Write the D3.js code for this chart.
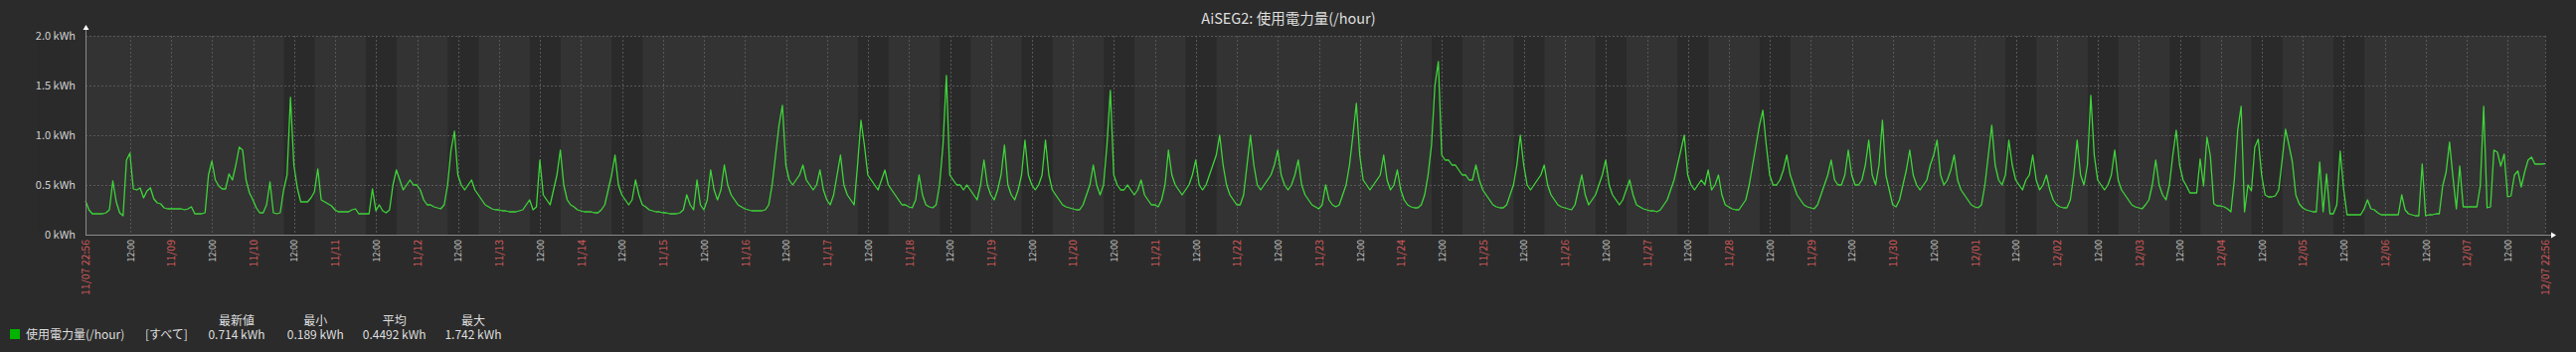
<!DOCTYPE html>
<html>

<head>
    <title>AiSEG2: 使用電力量(/hour)</title>
    <meta charset="utf-8">
    <script src="https://cdn.jsdelivr.net/npm/d3@7"></script>
    <style>
        body { margin: 0; background: #2b2b2b; }
        svg { display: block; font-family: "Noto Sans CJK JP", "Noto Sans", sans-serif; }
    </style>
</head>

<body>
<div id="chart"></div>
<script>
    const TITLE = "AiSEG2: 使用電力量(/hour)";
    const startTime = new Date(2025, 10, 7, 22, 56);
    const endTime = new Date(2025, 11, 7, 22, 56);

    // hourly values (kWh) from the start point, one row per day 11/08 .. 12/07
    const usage = [0.34,
        0.25, 0.21, 0.21, 0.21, 0.21, 0.22, 0.25, 0.54, 0.33, 0.22, 0.19, 0.75, 0.82, 0.46, 0.45, 0.47, 0.37, 0.44, 0.47, 0.36, 0.32, 0.31, 0.27, 0.26,
        0.26, 0.26, 0.26, 0.26, 0.25, 0.26, 0.28, 0.21, 0.21, 0.21, 0.22, 0.60, 0.74, 0.55, 0.49, 0.46, 0.46, 0.61, 0.55, 0.70, 0.88, 0.85, 0.55, 0.42,
        0.35, 0.27, 0.22, 0.22, 0.30, 0.53, 0.22, 0.21, 0.22, 0.45, 0.60, 1.38, 0.70, 0.47, 0.33, 0.33, 0.33, 0.37, 0.43, 0.66, 0.35, 0.33, 0.31, 0.29,
        0.25, 0.23, 0.23, 0.23, 0.23, 0.25, 0.26, 0.21, 0.21, 0.21, 0.21, 0.46, 0.24, 0.30, 0.24, 0.22, 0.25, 0.50, 0.65, 0.55, 0.45, 0.50, 0.55, 0.50,
        0.50, 0.45, 0.35, 0.30, 0.30, 0.28, 0.27, 0.26, 0.30, 0.50, 0.85, 1.04, 0.60, 0.50, 0.45, 0.50, 0.55, 0.45, 0.40, 0.35, 0.30, 0.28, 0.26, 0.25,
        0.25, 0.24, 0.24, 0.23, 0.23, 0.23, 0.24, 0.25, 0.30, 0.35, 0.25, 0.28, 0.75, 0.40, 0.35, 0.30, 0.45, 0.60, 0.85, 0.50, 0.35, 0.30, 0.28, 0.25,
        0.24, 0.23, 0.23, 0.23, 0.22, 0.22, 0.25, 0.30, 0.45, 0.60, 0.80, 0.50, 0.40, 0.35, 0.30, 0.35, 0.55, 0.40, 0.30, 0.28, 0.25, 0.24, 0.23, 0.23,
        0.22, 0.22, 0.21, 0.21, 0.21, 0.22, 0.25, 0.40, 0.30, 0.25, 0.55, 0.30, 0.25, 0.35, 0.65, 0.45, 0.35, 0.45, 0.70, 0.50, 0.40, 0.35, 0.30, 0.28,
        0.26, 0.25, 0.24, 0.24, 0.24, 0.24, 0.25, 0.30, 0.50, 0.80, 1.10, 1.30, 0.70, 0.55, 0.50, 0.55, 0.60, 0.70, 0.55, 0.50, 0.45, 0.50, 0.65, 0.45,
        0.35, 0.30, 0.40, 0.60, 0.80, 0.50, 0.40, 0.35, 0.30, 0.70, 1.15, 0.90, 0.60, 0.55, 0.50, 0.45, 0.55, 0.65, 0.50, 0.45, 0.40, 0.35, 0.30, 0.30,
        0.28, 0.27, 0.35, 0.60, 0.40, 0.30, 0.28, 0.27, 0.30, 0.50, 0.90, 1.60, 0.60, 0.55, 0.50, 0.50, 0.45, 0.50, 0.45, 0.40, 0.35, 0.50, 0.75, 0.50,
        0.40, 0.35, 0.45, 0.60, 0.90, 0.50, 0.40, 0.35, 0.45, 0.60, 0.95, 0.60, 0.50, 0.45, 0.50, 0.60, 0.95, 0.60, 0.45, 0.40, 0.35, 0.30, 0.28, 0.27,
        0.26, 0.25, 0.25, 0.30, 0.40, 0.50, 0.70, 0.50, 0.40, 0.50, 0.90, 1.45, 0.60, 0.50, 0.45, 0.45, 0.50, 0.45, 0.40, 0.45, 0.55, 0.40, 0.35, 0.30,
        0.30, 0.28, 0.35, 0.50, 0.85, 0.60, 0.50, 0.45, 0.40, 0.45, 0.50, 0.60, 0.75, 0.50, 0.45, 0.50, 0.60, 0.70, 0.80, 1.00, 0.70, 0.50, 0.40, 0.35,
        0.30, 0.30, 0.40, 0.70, 1.00, 0.70, 0.50, 0.45, 0.50, 0.55, 0.60, 0.70, 0.85, 0.60, 0.50, 0.45, 0.50, 0.60, 0.75, 0.50, 0.40, 0.35, 0.30, 0.28,
        0.26, 0.30, 0.50, 0.35, 0.30, 0.28, 0.30, 0.40, 0.50, 0.70, 1.00, 1.32, 0.80, 0.55, 0.50, 0.45, 0.50, 0.55, 0.60, 0.80, 0.55, 0.45, 0.50, 0.65,
        0.45, 0.35, 0.30, 0.28, 0.27, 0.27, 0.30, 0.40, 0.60, 0.90, 1.50, 1.74, 0.80, 0.75, 0.75, 0.70, 0.70, 0.65, 0.60, 0.60, 0.55, 0.55, 0.70, 0.55,
        0.45, 0.40, 0.35, 0.30, 0.28, 0.27, 0.27, 0.30, 0.40, 0.50, 0.70, 1.00, 0.70, 0.50, 0.45, 0.50, 0.55, 0.60, 0.70, 0.50, 0.40, 0.35, 0.30, 0.28,
        0.27, 0.26, 0.25, 0.30, 0.45, 0.60, 0.40, 0.30, 0.35, 0.40, 0.50, 0.60, 0.75, 0.50, 0.40, 0.35, 0.30, 0.35, 0.45, 0.55, 0.40, 0.30, 0.28, 0.26,
        0.25, 0.24, 0.24, 0.23, 0.25, 0.30, 0.35, 0.45, 0.55, 0.70, 0.85, 1.00, 0.60, 0.50, 0.45, 0.50, 0.55, 0.50, 0.65, 0.45, 0.50, 0.60, 0.40, 0.30,
        0.28, 0.26, 0.25, 0.25, 0.30, 0.35, 0.50, 0.70, 0.90, 1.10, 1.25, 0.90, 0.60, 0.50, 0.50, 0.55, 0.65, 0.80, 0.60, 0.50, 0.40, 0.35, 0.30, 0.28,
        0.27, 0.26, 0.30, 0.40, 0.50, 0.60, 0.75, 0.55, 0.50, 0.50, 0.60, 0.85, 0.60, 0.50, 0.50, 0.55, 0.70, 0.95, 0.60, 0.50, 0.70, 1.15, 0.60, 0.45,
        0.30, 0.28, 0.35, 0.50, 0.65, 0.85, 0.60, 0.50, 0.45, 0.50, 0.55, 0.70, 0.80, 0.95, 0.60, 0.50, 0.55, 0.65, 0.80, 0.55, 0.45, 0.40, 0.35, 0.30,
        0.28, 0.27, 0.30, 0.50, 0.80, 1.10, 0.70, 0.55, 0.50, 0.60, 0.95, 0.70, 0.55, 0.50, 0.45, 0.55, 0.60, 0.80, 0.55, 0.45, 0.50, 0.60, 0.45, 0.35,
        0.30, 0.28, 0.27, 0.27, 0.35, 0.60, 0.95, 0.60, 0.50, 0.70, 1.40, 0.80, 0.55, 0.50, 0.45, 0.50, 0.60, 0.85, 0.55, 0.45, 0.40, 0.35, 0.30, 0.28,
        0.27, 0.26, 0.30, 0.35, 0.50, 0.75, 0.50, 0.40, 0.35, 0.50, 0.80, 1.05, 0.70, 0.55, 0.49, 0.42, 0.42, 0.42, 0.76, 0.49, 0.98, 0.79, 0.31, 0.29,
        0.29, 0.28, 0.26, 0.23, 0.55, 1.05, 1.29, 0.23, 0.50, 0.44, 0.88, 0.96, 0.60, 0.40, 0.38, 0.38, 0.39, 0.45, 0.75, 1.06, 0.90, 0.73, 0.40, 0.31,
        0.27, 0.25, 0.24, 0.23, 0.23, 0.73, 0.23, 0.61, 0.21, 0.21, 0.30, 0.84, 0.46, 0.20, 0.20, 0.20, 0.20, 0.20, 0.26, 0.35, 0.26, 0.25, 0.22, 0.20,
        0.20, 0.20, 0.20, 0.20, 0.20, 0.40, 0.25, 0.21, 0.20, 0.19, 0.19, 0.71, 0.19, 0.20, 0.20, 0.21, 0.21, 0.49, 0.63, 0.93, 0.58, 0.26, 0.69, 0.28,
        0.28, 0.28, 0.28, 0.28, 0.49, 1.29, 0.27, 0.28, 0.85, 0.83, 0.69, 0.81, 0.38, 0.39, 0.60, 0.64, 0.48, 0.63, 0.75, 0.78, 0.71, 0.71, 0.71, 0.714
    ];

    const yTicks = [0, 0.5, 1.0, 1.5, 2.0];
    const seriesName = "使用電力量(/hour)";
    const seriesScope = "[すべて]";
    const legendHeaders = ["最新値", "最小", "平均", "最大"];
    const legendValues = ["0.714 kWh", "0.189 kWh", "0.4492 kWh", "1.742 kWh"];

    const W = 2591, H = 354;
    const margin = { top: 36, right: 31, bottom: 118, left: 86 };
    const plotRight = W - margin.right, plotBottom = H - margin.bottom;

    const svg = d3.select("#chart").append("svg")
        .attr("width", W)
        .attr("height", H);

    svg.append("rect").attr("width", W).attr("height", H).attr("fill", "#2b2b2b");

    const x = d3.scaleTime().domain([startTime, endTime]).range([margin.left, plotRight]);
    const y = d3.scaleLinear().domain([0, 2]).range([plotBottom, margin.top]);

    // plot background
    svg.append("rect")
        .attr("x", margin.left).attr("y", margin.top)
        .attr("width", plotRight - margin.left).attr("height", plotBottom - margin.top)
        .attr("fill", "#333333");

    // working time (Mon-Fri 09:00-18:00) drawn darker
    const days = d3.timeDay.range(d3.timeDay.floor(startTime), endTime)
        .filter(d => d.getDay() >= 1 && d.getDay() <= 5);
    svg.append("g").selectAll("rect")
        .data(days)
        .join("rect")
        .attr("x", d => x(d3.timeHour.offset(d, 9)))
        .attr("y", margin.top)
        .attr("width", d => x(d3.timeHour.offset(d, 18)) - x(d3.timeHour.offset(d, 9)))
        .attr("height", plotBottom - margin.top)
        .attr("fill", "#2a2a2a");

    // 12 hour ticks, skipping those crowding the end labels
    const ticks = d3.timeHour.every(12).range(startTime, endTime)
        .filter(t => x(t) - x(startTime) > 20 && x(endTime) - x(t) > 20);

    // grid
    const grid = svg.append("g")
        .attr("stroke", "#585858")
        .attr("stroke-dasharray", "2,2")
        .attr("stroke-width", 1);
    grid.selectAll(".vg")
        .data(ticks.concat([endTime]))
        .join("line")
        .attr("x1", d => Math.round(x(d)) + 0.5).attr("x2", d => Math.round(x(d)) + 0.5)
        .attr("y1", margin.top).attr("y2", plotBottom);
    grid.selectAll(".hg")
        .data(yTicks.filter(d => d > 0))
        .join("line")
        .attr("x1", margin.left).attr("x2", plotRight)
        .attr("y1", d => Math.round(y(d)) + 0.5).attr("y2", d => Math.round(y(d)) + 0.5);

    // series line
    const points = usage.map((v, i) => ({ t: d3.timeHour.offset(startTime, i), v: v }));
    const line = d3.line()
        .x(d => x(d.t))
        .y(d => y(d.v));
    svg.append("path")
        .datum(points)
        .attr("fill", "none")
        .attr("stroke", "#3fd43a")
        .attr("stroke-width", 1.3)
        .attr("stroke-linejoin", "round")
        .attr("d", line);

    // axes lines with arrows
    svg.append("line")
        .attr("x1", margin.left + 0.5).attr("x2", margin.left + 0.5)
        .attr("y1", plotBottom).attr("y2", margin.top - 8)
        .attr("stroke", "#8a8a8a");
    svg.append("line")
        .attr("x1", margin.left).attr("x2", plotRight + 8)
        .attr("y1", plotBottom + 0.5).attr("y2", plotBottom + 0.5)
        .attr("stroke", "#8a8a8a");
    svg.append("path")
        .attr("d", `M${margin.left + 0.5},${margin.top - 11}l-3,5h6z`)
        .attr("fill", "#ffffff");
    svg.append("path")
        .attr("d", `M${plotRight + 11},${plotBottom + 0.5}l-5,-3v6z`)
        .attr("fill", "#ffffff");

    // y axis labels
    const yAxis = svg.append("g")
        .attr("transform", `translate(${margin.left},0)`)
        .call(d3.axisLeft(y).tickValues(yTicks).tickSize(0).tickPadding(10)
            .tickFormat(d => (d === 0 ? "0" : d.toFixed(1)) + " kWh"));
    yAxis.select(".domain").remove();
    yAxis.selectAll("text")
        .attr("fill", "#d0d0d0")
        .style("font-size", "11px")
        .style("font-family", "'Noto Sans CJK JP', sans-serif");

    // x axis labels
    const fmtDay = d3.timeFormat("%m/%d");
    const fmtHour = d3.timeFormat("%H:%M");
    const fmtFull = d3.timeFormat("%m/%d %H:%M");
    const labelTimes = [startTime].concat(ticks, [endTime]);
    const isEdge = t => +t === +startTime || +t === +endTime;
    const isMidnight = t => t.getHours() === 0 && t.getMinutes() === 0;

    const xAxis = svg.append("g")
        .attr("transform", `translate(0,${plotBottom})`)
        .call(d3.axisBottom(x).tickValues(labelTimes).tickSize(0)
            .tickFormat(t => isEdge(t) ? fmtFull(t) : (isMidnight(t) ? fmtDay(t) : fmtHour(t))));
    xAxis.select(".domain").remove();
    xAxis.selectAll("text")
        .attr("transform", "rotate(-90)")
        .attr("x", -5)
        .attr("y", 0)
        .attr("dy", "0.35em")
        .style("text-anchor", "end")
        .style("font-family", "'Noto Sans CJK JP', sans-serif")
        .style("font-size", t => (isEdge(t) || isMidnight(t)) ? "10.5px" : "9px")
        .attr("fill", t => (isEdge(t) || isMidnight(t)) ? "#d25a5a" : "#d0d0d0");

    // title
    svg.append("text")
        .attr("x", 1296)
        .attr("y", 24)
        .attr("text-anchor", "middle")
        .attr("fill", "#dedede")
        .style("font-size", "14.5px")
        .text(TITLE);

    // legend
    const legend = svg.append("g").style("font-size", "12px").attr("fill", "#dedede");
    legend.append("rect")
        .attr("x", 10).attr("y", 331)
        .attr("width", 10).attr("height", 10)
        .attr("fill", "#00b400");
    legend.append("text").attr("x", 26).attr("y", 341).text(seriesName);
    legend.append("text").attr("x", 146).attr("y", 341).text(seriesScope);

    const col = d3.scalePoint().domain(legendHeaders).range([238, 476]);
    legend.selectAll(".hdr")
        .data(legendHeaders)
        .join("text")
        .attr("x", d => col(d)).attr("y", 327)
        .attr("text-anchor", "middle")
        .text(d => d);
    legend.selectAll(".val")
        .data(legendValues)
        .join("text")
        .attr("x", (d, i) => col(legendHeaders[i])).attr("y", 341)
        .attr("text-anchor", "middle")
        .text(d => d);
</script>
</body>

</html>
